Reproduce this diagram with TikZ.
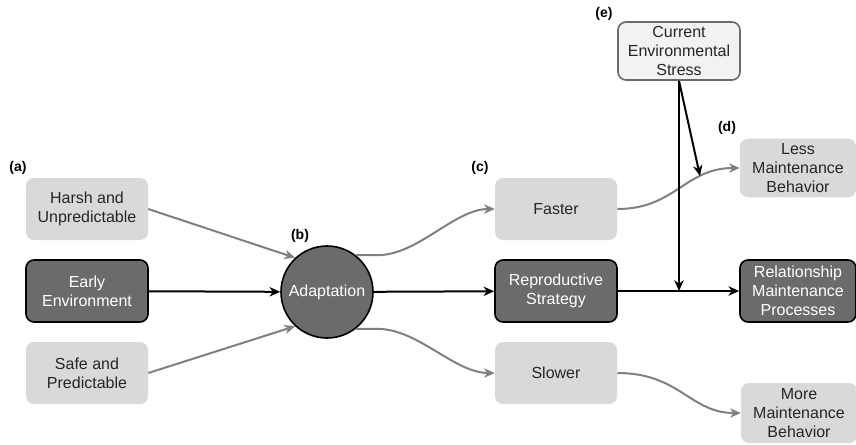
\documentclass[tikz,border=0pt]{standalone}
\usepackage{fontspec}
\setmainfont{Liberation Sans}
\usetikzlibrary{arrows.meta}
\definecolor{liteGrey}{HTML}{D9D9D9}
\definecolor{darkGrey}{HTML}{6B6B6B}
\definecolor{paleGrey}{HTML}{F2F2F2}
\definecolor{lineGrey}{HTML}{808080}
\definecolor{inkGrey}{HTML}{262626}

\begin{document}
\begin{tikzpicture}[x=0.75pt,y=0.75pt,yscale=-1,xscale=1,
  litebox/.style={rectangle,rounded corners=6pt,fill=liteGrey,text=inkGrey,align=center,
    minimum width=91.5pt,minimum height=46.5pt,inner sep=1pt,font=\fontsize{12}{14.25}\selectfont},
  darkbox/.style={litebox,draw=black,line width=1.2pt,fill=darkGrey,text=white},
  palebox/.style={litebox,draw=darkGrey,line width=1.2pt,fill=paleGrey,minimum height=43.5pt},
  tag/.style={anchor=center,inner sep=0.75pt,font=\bfseries\fontsize{10.5}{12}\selectfont},
  greyarrow/.style={draw=lineGrey,line width=1.5pt,-{Stealth[length=8pt,width=7pt,inset=2.5pt]}},
  blackarrow/.style={draw=black,line width=1.5pt,-{Stealth[length=8pt,width=7pt,inset=2.5pt]}}]
			\useasboundingbox (0,0) rectangle (856,444);
			\fill[white] (0,0) rectangle (856,444);
			%Shape: Circle [id:adaptation]
			\node [circle,draw=black,line width=1.2pt,fill=darkGrey,text=white,minimum size=69pt,inner sep=0pt,font=\fontsize{12}{14.25}\selectfont] (adapt) at (327,292) {Adaptation};
			%Shape: Rectangle [id:early]
			\node [litebox] (harsh) at (87,209) {Harsh and\\Unpredictable};
			\node [darkbox] (early) at (87,291) {Early\\Environment};
			\node [litebox] (safe) at (87,373) {Safe and\\Predictable};
			%Shape: Rectangle [id:strategy]
			\node [litebox] (faster) at (556,209) {Faster};
			\node [darkbox] (repro) at (556,291) {Reproductive\\Strategy};
			\node [litebox] (slower) at (556,373) {Slower};
			%Shape: Rectangle [id:maintenance]
			\node [palebox] (stress) at (679,51) {Current\\Environmental\\Stress};
			\node [litebox,minimum width=87pt,minimum height=44pt] (less) at (798,168) {Less\\Maintenance\\Behavior};
			\node [darkbox,minimum width=87pt] (relation) at (798,291) {Relationship\\Maintenance\\Processes};
			\node [litebox,minimum width=87pt,minimum height=45pt] (more) at (799,413) {More\\Maintenance\\Behavior};
			% Text Node
			\node [tag] (tagA) at (18,168) {(a)};
			\node [tag] (tagB) at (300,236) {(b)};
			\node [tag] (tagC) at (480,168) {(c)};
			\node [tag] (tagD) at (727,128) {(d)};
			\node [tag] (tagE) at (604,14) {(e)};
			%Straight Lines [id:inputs]
			\draw [greyarrow] (harsh.east) -- (adapt.133);
			\draw [blackarrow] (early) -- (adapt);
			\draw [greyarrow] (safe.east) -- (adapt.227);
			\draw [blackarrow] (adapt) -- (repro);
			\draw [blackarrow] (repro) -- (relation);
			%Curve Lines [id:outputs]
			\draw [greyarrow] (adapt.52) -- ++(22,0) .. controls +(40,0) and +(-40,0) .. (faster.west);
			\draw [greyarrow] (adapt.-52) -- ++(22,0) .. controls +(40,0) and +(-40,0) .. (slower.west);
			\draw [greyarrow] (faster.east) .. controls (675,209) and (685,168) .. (less.west);
			\draw [greyarrow] (slower.east) .. controls (680,373) and (690,413) .. (more.west);
			%Straight Lines [id:stress]
			\coordinate (join) at (679,291);
			\coordinate (onCurve) at (700,176);
			\draw [blackarrow] (stress.south) -- (join);
			\draw [blackarrow] (stress.south) -- (onCurve);
\end{tikzpicture}
\end{document}
